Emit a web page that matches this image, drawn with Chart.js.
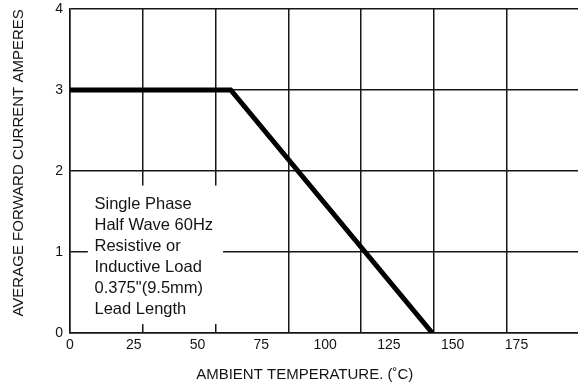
<!DOCTYPE html>
<html>
<head>
<meta charset="utf-8">
<script src="https://cdn.jsdelivr.net/npm/chart.js@4.4.0/dist/chart.umd.min.js"></script>
<style>
    body { margin: 0; background: #fff; }
    canvas { display: block; }
</style>
</head>
<body>
<canvas id="chart" width="578" height="385"></canvas>
<script>
// derating curve
const temps = [0, 63, 142];
const amps = [3, 3, 0];

const xTickValues = [0, 25, 50, 75, 100, 125, 150, 175];
const yTickValues = [0, 1, 2, 3, 4];

// the printed grid does not line up with the printed labels,
// so it gets its own hidden axis (one column = 25 of its units)
const gridCols = [0, 25, 50, 75, 100, 125, 150];

const noteLines = [
    'Single Phase',
    'Half Wave 60Hz',
    'Resistive or',
    'Inductive Load',
    '0.375"(9.5mm)',
    'Lead Length'
];

const xTitle = 'AMBIENT TEMPERATURE. (\u02DAC)';
const yTitle = 'AVERAGE FORWARD CURRENT AMPERES';

const FONT = '"Liberation Sans", Arial, Helvetica, sans-serif';
const INK = '#141414';
const LINE = '#161616';

const notePlugin = {
    id: 'note',
    beforeDatasetsDraw(chart) {
        const { ctx, scales: { x, y } } = chart;
        const left = x.getPixelForValue(7);
        const right = x.getPixelForValue(60);
        const top = y.getPixelForValue(1.82);
        const bottom = y.getPixelForValue(0.11);

        ctx.save();
        ctx.fillStyle = '#fff';
        ctx.fillRect(left, top, right - left, bottom - top);
        ctx.fillStyle = INK;
        ctx.font = '16.5px ' + FONT;
        ctx.textBaseline = 'middle';
        ctx.textAlign = 'left';
        noteLines.forEach((line, i) => {
            ctx.fillText(line, x.getPixelForValue(9.6), top + 19 + i * 21);
        });
        ctx.restore();
    },
    afterDraw(chart) {
        const { ctx, chartArea, scales: { x, y } } = chart;
        ctx.save();
        ctx.fillStyle = INK;
        ctx.font = '15px ' + FONT;
        ctx.textAlign = 'center';
        ctx.textBaseline = 'alphabetic';
        ctx.fillText(xTitle, x.getPixelForValue(92), chartArea.bottom + 46);

        ctx.translate(chartArea.left - 47, y.getPixelForValue(2.1));
        ctx.rotate(-Math.PI / 2);
        ctx.fillText(yTitle, 0, 0);
        ctx.restore();
    }
};

const ctx = document.getElementById('chart').getContext('2d');

new Chart(ctx, {
    type: 'line',
    data: {
        datasets: [{
            data: temps.map((t, i) => ({ x: t, y: amps[i] })),
            borderColor: '#000',
            borderWidth: 5,
            borderJoinStyle: 'miter',
            pointRadius: 0,
            tension: 0,
            fill: false
        }]
    },
    options: {
        responsive: false,
        animation: false,
        devicePixelRatio: 1,
        layout: {
            padding: { top: 9, right: 0, bottom: 0, left: 0 }
        },
        plugins: {
            legend: { display: false },
            tooltip: { enabled: false }
        },
        scales: {
            x: {
                type: 'linear',
                position: 'bottom',
                min: 0,
                max: 199.1,
                afterBuildTicks: scale => {
                    scale.ticks = xTickValues.map(v => ({ value: v }));
                },
                afterFit: scale => { scale.height = 52; },
                ticks: {
                    color: INK,
                    padding: 4,
                    maxRotation: 0,
                    font: { family: FONT, size: 14 }
                },
                grid: { display: false, drawTicks: false },
                border: { display: true, color: LINE, width: 1.5 }
            },
            grid: {
                type: 'linear',
                position: 'bottom',
                min: 0,
                max: 174.5,
                afterBuildTicks: scale => {
                    scale.ticks = gridCols.map(v => ({ value: v }));
                },
                afterFit: scale => { scale.height = 0; },
                ticks: { display: false },
                grid: { color: LINE, lineWidth: 1.5, drawTicks: false },
                border: { display: false }
            },
            y: {
                min: 0,
                max: 4,
                afterBuildTicks: scale => {
                    scale.ticks = yTickValues.map(v => ({ value: v }));
                },
                afterFit: scale => {
                    scale.width = 70;
                    scale.paddingTop = 0;
                    scale.paddingBottom = 0;
                },
                ticks: {
                    color: INK,
                    padding: 7,
                    font: { family: FONT, size: 14 }
                },
                grid: { color: LINE, lineWidth: 1.5, drawTicks: false },
                border: { display: true, color: LINE, width: 1.5 }
            }
        }
    },
    plugins: [notePlugin]
});
</script>
</body>
</html>
